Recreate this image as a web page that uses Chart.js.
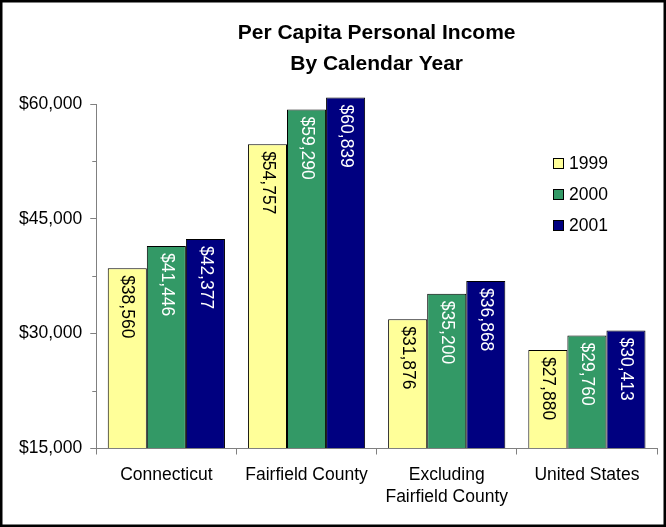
<!DOCTYPE html>
<html>
<head>
<meta charset="utf-8">
<title>Per Capita Personal Income</title>
<script src="https://cdn.jsdelivr.net/npm/chart.js@4/dist/chart.umd.min.js"></script>
<style>
    body { margin: 0; background: #fff; }
    #wrap { width: 666px; height: 527px; position: relative; }
</style>
</head>
<body>
<div id="wrap"><canvas id="incomeChart"></canvas></div>
<script>
// Chart data
const regions = ['Connecticut', 'Fairfield County', ['Excluding', 'Fairfield County'], 'United States'];
const years = ['1999', '2000', '2001'];
const income1999 = [38560, 54757, 31876, 27880];
const income2000 = [41446, 59290, 35200, 29760];
const income2001 = [42377, 60839, 36868, 30413];
const yTicks = [15000, 30000, 45000, 60000];
const yMinorTicks = [22500, 37500, 52500];

const FONT = "'Liberation Sans', Arial, Helvetica, sans-serif";
const AXIS_GRAY = '#808080';

const dollars = v => '$' + Number(v).toLocaleString('en-US');

// White background and black frame around the whole chart
const framePlugin = {
    id: 'frame',
    beforeDraw(chart) {
        const c = chart.ctx;
        c.save();
        c.fillStyle = '#fff';
        c.fillRect(0, 0, chart.width, chart.height);
        c.restore();
    },
    afterDraw(chart) {
        const c = chart.ctx;
        c.save();
        c.strokeStyle = '#000';
        c.lineWidth = 2.5;
        c.strokeRect(1.25, 1.25, chart.width - 2.5, chart.height - 2.5);
        c.restore();
    }
};

// Short minor tick marks on the value axis
const minorTickPlugin = {
    id: 'minorTicks',
    afterDraw(chart) {
        const y = chart.scales.y;
        const c = chart.ctx;
        c.save();
        c.strokeStyle = AXIS_GRAY;
        c.lineWidth = 1;
        yMinorTicks.forEach(v => {
            const py = Math.round(y.getPixelForValue(v)) + 0.5;
            c.beginPath();
            c.moveTo(y.right - 4, py);
            c.lineTo(y.right, py);
            c.stroke();
        });
        c.restore();
    }
};

// Vertical value labels inside the top of each bar
const barLabelPlugin = {
    id: 'barLabels',
    afterDatasetsDraw(chart) {
        const c = chart.ctx;
        c.save();
        c.font = '17.5px ' + FONT;
        c.textAlign = 'left';
        c.textBaseline = 'middle';
        chart.data.datasets.forEach((ds, di) => {
            const meta = chart.getDatasetMeta(di);
            meta.data.forEach((bar, i) => {
                c.save();
                c.translate(bar.x, bar.y + 7);
                c.rotate(Math.PI / 2);
                c.fillStyle = ds.labelColor;
                c.fillText(dollars(ds.data[i]), 0, 0);
                c.restore();
            });
        });
        c.restore();
    }
};

// Legend sitting inside the plot area on the right
const legendPlugin = {
    id: 'insideLegend',
    afterDraw(chart) {
        const c = chart.ctx;
        c.save();
        c.font = '17.5px ' + FONT;
        c.textBaseline = 'middle';
        c.textAlign = 'left';
        chart.data.datasets.forEach((ds, i) => {
            const cy = 163 + i * 31;
            c.fillStyle = ds.backgroundColor;
            c.fillRect(553, cy - 5, 11, 11);
            c.strokeStyle = '#000';
            c.lineWidth = 1;
            c.strokeRect(553.5, cy - 4.5, 10, 10);
            c.fillStyle = '#000';
            c.fillText(ds.label, 569, cy + 1);
        });
        c.restore();
    }
};

const barStyle = {
    base: 15000,
    borderColor: '#000',
    borderWidth: 1,
    borderSkipped: 'bottom',
    barPercentage: 1.0,
    categoryPercentage: 0.836,
    clip: false
};

new Chart(document.getElementById('incomeChart'), {
    type: 'bar',
    data: {
        labels: regions,
        datasets: [
            { ...barStyle, label: years[0], data: income1999, backgroundColor: '#FFFF99', labelColor: '#000' },
            { ...barStyle, label: years[1], data: income2000, backgroundColor: '#339966', labelColor: '#fff' },
            { ...barStyle, label: years[2], data: income2001, backgroundColor: '#000080', labelColor: '#fff' }
        ]
    },
    options: {
        responsive: true,
        maintainAspectRatio: false,
        animation: false,
        layout: { padding: { top: 0, left: 11, right: 9, bottom: 9 } },
        plugins: {
            legend: { display: false },
            tooltip: { enabled: false },
            title: {
                display: true,
                fullSize: false,
                text: ['Per Capita Personal Income', 'By Calendar Year'],
                color: '#000',
                font: { family: FONT, size: 21, weight: 'bold', lineHeight: 1.5 },
                padding: { top: 17, bottom: 24 }
            }
        },
        scales: {
            x: {
                offset: true,
                grid: {
                    offset: true,
                    drawOnChartArea: false,
                    drawTicks: true,
                    tickLength: 6,
                    color: AXIS_GRAY
                },
                border: { display: true, color: AXIS_GRAY },
                ticks: {
                    color: '#000',
                    padding: 9,
                    maxRotation: 0,
                    autoSkip: false,
                    font: { family: FONT, size: 17.5, lineHeight: 1.3 }
                }
            },
            y: {
                min: 15000,
                max: 60000,
                afterBuildTicks(scale) {
                    scale.ticks = yTicks.map(v => ({ value: v }));
                },
                grid: {
                    drawOnChartArea: false,
                    drawTicks: true,
                    tickLength: 6,
                    color: AXIS_GRAY
                },
                border: { display: true, color: AXIS_GRAY },
                ticks: {
                    color: '#000',
                    padding: 8,
                    font: { family: FONT, size: 17.5 },
                    callback: v => dollars(v)
                }
            }
        }
    },
    plugins: [framePlugin, minorTickPlugin, barLabelPlugin, legendPlugin]
});
</script>
</body>
</html>
